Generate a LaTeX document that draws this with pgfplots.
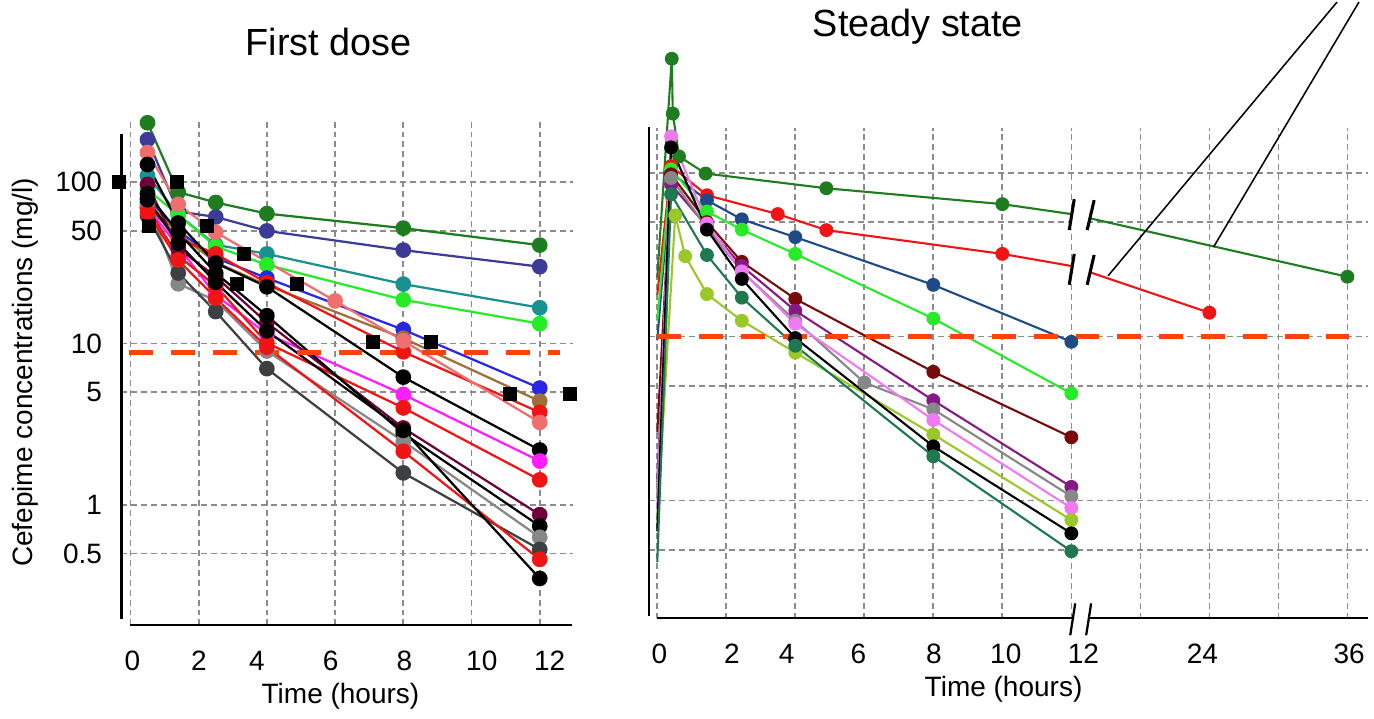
\documentclass[border=0pt]{standalone}
\usepackage{fontspec}
\setmainfont{Liberation Sans}
\usepackage{pgfplots}
\pgfplotsset{compat=1.18}

\definecolor{gDark}{RGB}{30,125,30}
\definecolor{gNavy}{RGB}{60,60,150}
\definecolor{gTeal}{RGB}{25,145,145}
\definecolor{gLime}{RGB}{40,235,40}
\definecolor{gBlue}{RGB}{40,40,225}
\definecolor{gBrown}{RGB}{160,110,55}
\definecolor{gRed}{RGB}{240,20,20}
\definecolor{gSalmon}{RGB}{240,110,110}
\definecolor{gMagenta}{RGB}{255,30,255}
\definecolor{gMaroon}{RGB}{110,0,60}
\definecolor{gGray}{RGB}{135,135,135}
\definecolor{gSlate}{RGB}{60,64,66}
\definecolor{gSteel}{RGB}{30,75,135}
\definecolor{gDarkRed}{RGB}{120,10,10}
\definecolor{gPurple}{RGB}{135,25,135}
\definecolor{gPink}{RGB}{240,120,240}
\definecolor{gOlive}{RGB}{155,200,40}
\definecolor{gSea}{RGB}{30,120,80}
\definecolor{gThr}{RGB}{255,65,10}
\definecolor{gGrid}{RGB}{140,140,140}

\pgfplotsset{
  fdline/.style={line width=0.8pt, mark=*, mark size=2.4pt, color=#1, mark options={solid, fill=#1}},
  ssline/.style={line width=0.75pt, mark=*, mark size=2.1pt, color=#1, mark options={solid, fill=#1}},
}

\begin{document}
\begin{tikzpicture}
% page = 1374 x 715 px at 0.0125 cm per px
\path (0,0) rectangle (17.175,8.9375);

%% ---------------- First dose ----------------
\begin{axis}[
  at={(1.525cm,1.1125cm)}, anchor=south west,
  scale only axis, clip=false,
  width=5.6625cm, height=6.35cm,
  ymode=log,
  xmin=-0.263, xmax=12.964,
  ymin=0.179, ymax=245,
  axis line style={draw=none},
  major tick length=0pt,
  xmajorgrids=true, ymajorgrids=true,
  grid style={gGrid, line width=0.6pt, dash pattern=on 0.075cm off 0.05cm},
  xtick={0,2,...,12}, xticklabels={},
  ytick={0.5,1,5,10,50,100},
  yticklabels={0.5,1,5,10,50,100},
  ticklabel style={font=\fontsize{10}{12}\selectfont},
  xticklabel style={yshift=-0.2cm},
  yticklabel style={xshift=-0.12cm},
  extra x ticks={0.06,2.01,3.71,5.87,8.03,10.3,12.29},
  extra x tick labels={0,2,4,6,8,10,12},
  extra x tick style={xmajorgrids=false},
]
\addplot[fdline=gDark]    coordinates {(0.5,234)(1.4,87)(2.5,75)(4,64)(8,52)(12,40.8)};
\addplot[fdline=gNavy]    coordinates {(0.5,184)(1.4,66)(2.5,61)(4,50)(8,38)(12,30)};
\addplot[fdline=gTeal]    coordinates {(0.5,110)(1.4,63)(2.5,41)(4,36)(8,23.4)(12,16.7)};
\addplot[fdline=gLime]    coordinates {(0.5,90)(1.4,63)(2.5,40)(4,30.8)(8,18.7)(12,13.3)};
\addplot[fdline=gBlue]    coordinates {(0.5,80)(1.4,50)(2.5,34)(4,25.5)(8,12.2)(12,5.3)};
\addplot[fdline=gBrown]   coordinates {(0.5,75)(1.4,48)(2.5,32)(4,23)(8,10.8)(12,4.4)};
\addplot[fdline=gRed]     coordinates {(0.5,72)(1.4,45)(2.5,36)(4,23.8)(8,8.9)(12,3.75)};
\addplot[fdline=gSalmon]  coordinates {(0.5,153)(1.4,73)(2.5,49)(6,18.4)(8,10.4)(12,3.25)};
\addplot[fdline=black]    coordinates {(0.5,129)(1.4,56)(2.5,31.6)(4,22.5)(8,6.2)(12,2.19)};
\addplot[fdline=gMagenta] coordinates {(0.5,70)(1.4,40)(2.5,20)(4,11.5)(8,4.84)(12,1.87)};
\addplot[fdline=gRed]     coordinates {(0.5,69)(1.4,35)(2.5,22.8)(4,10.1)(8,4.0)(12,1.43)};
\addplot[fdline=gMaroon]  coordinates {(0.5,97)(1.4,39)(2.5,26)(4,13.5)(8,3.0)(12,0.87)};
\addplot[fdline=black]    coordinates {(0.5,85)(1.4,49)(2.5,27.4)(4,14.9)(8,2.78)(12,0.74)};
\addplot[fdline=gGray]    coordinates {(0.5,75)(1.4,23.5)(2.5,18.5)(4,9)(8,2.48)(12,0.63)};
\addplot[fdline=gSlate]   coordinates {(0.5,62)(1.4,27.4)(2.5,15.8)(4,7)(8,1.58)(12,0.53)};
\addplot[fdline=gRed]     coordinates {(0.5,65)(1.4,33)(2.5,19.2)(4,9.5)(8,2.15)(12,0.46)};
\addplot[fdline=black]    coordinates {(0.5,78)(1.4,42)(2.5,24)(4,12)(8,2.9)(12,0.35)};
% reference values (squares)
\addplot[only marks, mark=square*, mark size=2.3pt, black] coordinates {
  (-0.35,100)(0.55,53.5)(1.37,100)(2.25,53.5)(3.33,36)(3.12,23.4)(4.88,23.4)
  (7.12,10.3)(8.82,10.3)(11.12,4.84)(12.88,4.84)};
\draw[gThr, line width=1.7pt, dash pattern=on 0.3cm off 0.225cm]
  (axis cs:-0.03,8.8) -- (axis cs:12.6,8.8);
\end{axis}

%% ---------------- Steady state ----------------
% x is drawn on a broken scale: 0-12 h as is, then 24 h at 16 and 36 h at 20
\begin{axis}[
  at={(8.15cm,1.2cm)}, anchor=south west,
  scale only axis, clip=false,
  width=9.025cm, height=6.1625cm,
  ymode=log,
  xmin=-0.231, xmax=20.606,
  ymin=0.1904, ymax=189.1,
  axis line style={draw=none},
  major tick length=0pt,
  xmajorgrids=true, ymajorgrids=true,
  grid style={gGrid, line width=0.6pt, dash pattern=on 0.075cm off 0.05cm},
  xtick={0,2,...,20}, xticklabels={},
  ytick={0.5,1,5,10,50,100}, yticklabels={},
  ticklabel style={font=\fontsize{10}{12}\selectfont},
  xticklabel style={yshift=-0.2cm},
  extra x ticks={0.06,2.16,3.75,5.83,8.02,10.1,12.35,15.8,20.05},
  extra x tick labels={0,2,4,6,8,10,12,24,36},
  extra x tick style={xmajorgrids=false},
]
\addplot[ssline=gDark, mark indices={2,3,4,5,6,7,9}] coordinates {(0,23)(0.42,497)(0.45,230)(0.63,126)(1.4,99)(4.9,80.5)(10,64.4)(12,56)(20,23.2)};
\addplot[ssline=gRed, mark indices={2,3,4,5,6,8}] coordinates {(0,18)(0.4,110)(1.44,73)(3.49,56)(4.9,44.7)(10,32)(12,27)(16,14)};
\addplot[ssline=gSteel, mark indices={2,3,4,5,6,7}] coordinates {(0,9.5)(0.4,100)(1.44,68)(2.45,52)(4,40.5)(8,20.7)(12,9.3)};
\addplot[ssline=gLime, mark indices={2,3,4,5,6,7}] coordinates {(0,12.5)(0.4,105)(1.44,58)(2.45,45)(4,32)(8,12.9)(12,4.5)};
\addplot[ssline=gDarkRed, mark indices={2,3,4,5,6,7}] coordinates {(0,2.6)(0.4,98)(1.44,50)(2.45,28.6)(4,17)(8,6.1)(12,2.43)};
\addplot[ssline=gPurple, mark indices={2,3,4,5,6,7}] coordinates {(0,1.3)(0.4,85)(1.44,47)(2.45,27)(4,14.4)(8,4.08)(12,1.21)};
\addplot[ssline=gGray, mark indices={2,3,4,5,6,7,8}] coordinates {(0,1.1)(0.4,93)(1.44,46)(2.45,25)(4,12.5)(6,5.25)(8,3.6)(12,1.06)};
\addplot[ssline=gPink, mark indices={2,3,4,5,6,7}] coordinates {(0,0.9)(0.4,167)(1.44,49)(2.45,25)(4,12)(8,3.1)(12,0.9)};
\addplot[ssline=gOlive, mark indices={2,3,4,5,6,7,8}] coordinates {(0,0.76)(0.52,55)(0.81,31)(1.44,18.2)(2.45,12.5)(4,8)(8,2.53)(12,0.76)};
\addplot[ssline=black, mark indices={2,3,4,5,6,7}] coordinates {(0,0.65)(0.4,143)(1.44,45)(2.45,22.5)(4,9.8)(8,2.14)(12,0.63)};
\addplot[ssline=gSea, mark indices={2,3,4,5,6,7}] coordinates {(0,0.42)(0.4,74)(1.44,31.5)(2.45,17.3)(4,8.8)(8,1.86)(12,0.49)};
\draw[gThr, line width=1.7pt, dash pattern=on 0.3cm off 0.225cm]
  (axis cs:0,10) -- (axis cs:20.05,10);
\end{axis}

%% ---------------- frame, breaks, text (px coordinates, origin top left) ----------------
\begin{scope}[x=0.0125cm, y=-0.0125cm, yshift=8.9375cm]
  \draw[line width=1.1pt] (122,133) -- (122,620);
  \draw[line width=0.7pt] (131,626) -- (575,626);
  \draw[line width=0.6pt] (652,126) -- (652,617);
  \draw[line width=0.7pt] (660,619) -- (1374,619);
  % axis breaks
  \fill[white] (1074.5,228) -- (1078.8,199) -- (1098.8,199.5) -- (1092.2,228.5) -- cycle;
  \draw[line width=1.1pt] (1074,229) -- (1079,198) (1092,229) -- (1099,199);
  \fill[white] (1074.5,283) -- (1078.8,254) -- (1098.8,254.5) -- (1092.2,283.5) -- cycle;
  \draw[line width=1.1pt] (1074,284) -- (1079,253) (1092,284) -- (1099,254);
  \fill[white] (1076,622) -- (1079.5,615) -- (1095.5,615) -- (1092,622) -- cycle;
  \draw[line width=0.8pt] (1075,636) -- (1080,604) (1091,636) -- (1096,604);
  % pointer lines
  \draw[line width=0.55pt] (1113,275) -- (1343,0);
  \draw[line width=0.55pt] (1219,246) -- (1365,0);
  % titles and labels
  \node[font=\fontsize{13.5}{16}\selectfont] at (330,40) {First dose};
  \node[font=\fontsize{13.5}{16}\selectfont] at (922,25) {Steady state};
  \node[font=\fontsize{10}{12}\selectfont] at (342,697) {Time (hours)};
  \node[font=\fontsize{10}{12}\selectfont] at (1008,690) {Time (hours)};
  \node[font=\fontsize{10}{12}\selectfont, rotate=90] at (25,372) {Cefepime concentrations (mg/l)};
\end{scope}
\end{tikzpicture}
\end{document}
